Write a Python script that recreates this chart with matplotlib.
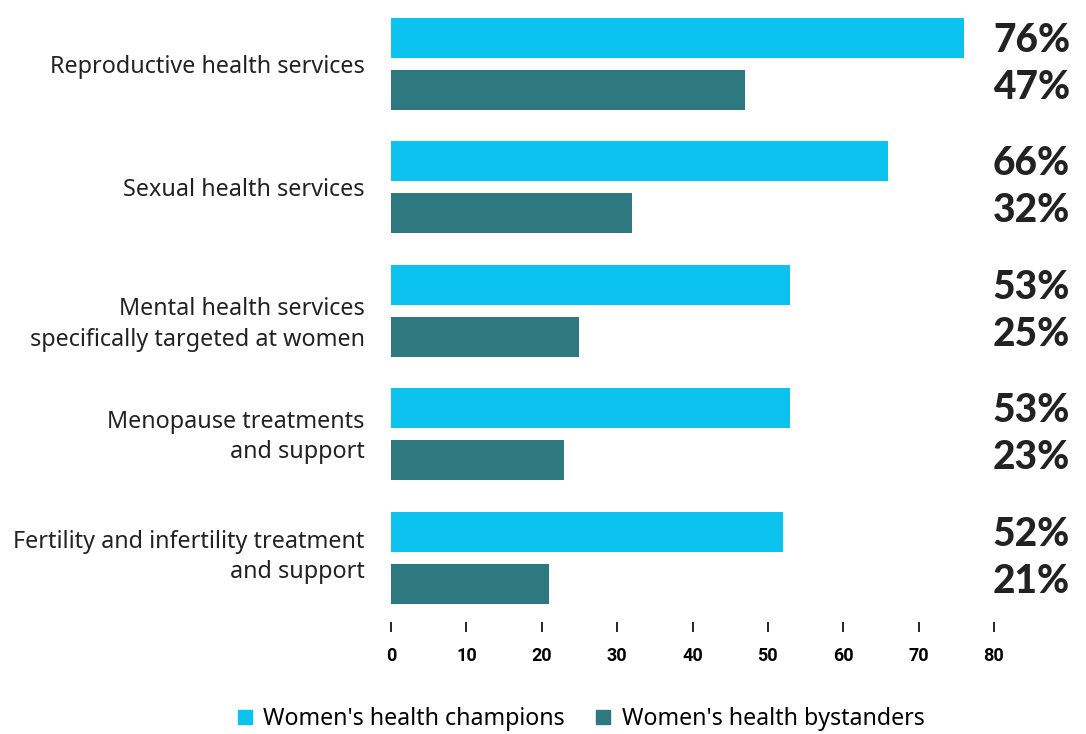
import numpy as np
import matplotlib.pyplot as plt
import matplotlib.transforms as mtransforms
from matplotlib.lines import Line2D

categories = [
    "Reproductive health services",
    "Sexual health services",
    "Mental health services\nspecifically targeted at women",
    "Menopause treatments\nand support",
    "Fertility and infertility treatment\nand support",
]
champions = [76, 66, 53, 53, 52]
bystanders = [47, 32, 25, 23, 21]
series_names = ["Women's health champions", "Women's health bystanders"]
xticks = [0, 10, 20, 30, 40, 50, 60, 70, 80]

cyan = "#0BC3EE"
teal = "#2E7880"
text_color = "#222222"

fig = plt.figure(figsize=(10.86, 7.34), dpi=100)
ax = fig.add_axes([391 / 1086, 1 - 622 / 734, 603 / 1086, 617.3 / 734])

y = np.arange(len(categories))
off = 0.21
h = 0.324
ax.barh(y - off, champions, height=h, color=cyan)
ax.barh(y + off, bystanders, height=h, color=teal)

ax.set_xlim(0, 80)
ax.set_ylim(4.52, -0.48)

for s in ax.spines.values():
    s.set_visible(False)

ax.set_xticks(xticks)
ax.set_xticklabels([str(t) for t in xticks], fontfamily="Roboto",
                   fontweight="bold", fontsize=13, color="black")
ax.tick_params(axis="x", length=7, width=1.2, pad=11, direction="out",
               color="black")
ax.set_yticks([])

# category names, right-aligned left of the bars
trans = mtransforms.blended_transform_factory(ax.transAxes, ax.transData)
shift = [-2, -2, -10, -2, 0.5]
for i, name in enumerate(categories):
    ax.annotate(name, xy=(0, y[i]), xycoords=trans,
                xytext=(-19, shift[i]), textcoords="offset points",
                ha="right", va="center", fontfamily="Noto Sans",
                fontsize=16.8, color=text_color, linespacing=1.37)

# value labels to the right of the axes
for i in range(len(categories)):
    ax.text(90.1, y[i] - 0.19, f"{champions[i]}%", ha="right", va="center",
            fontfamily="Lato", fontweight="black", fontsize=28,
            color=text_color, clip_on=False)
    ax.text(90.1, y[i] + 0.19, f"{bystanders[i]}%", ha="right", va="center",
            fontfamily="Lato", fontweight="black", fontsize=28,
            color=text_color, clip_on=False)

handles = [
    Line2D([], [], marker="s", linestyle="none", markersize=9.5,
           markerfacecolor=cyan, markeredgecolor=cyan),
    Line2D([], [], marker="s", linestyle="none", markersize=9.5,
           markerfacecolor=teal, markeredgecolor=teal),
]
fig.legend(handles, series_names, loc="center", bbox_to_anchor=(0.5345, 0.02),
           ncol=2, frameon=False, handlelength=0.7, handletextpad=0.45,
           columnspacing=1.3, prop={"family": "Noto Sans", "size": 16.7})

fig.savefig("out.png", dpi=100)
